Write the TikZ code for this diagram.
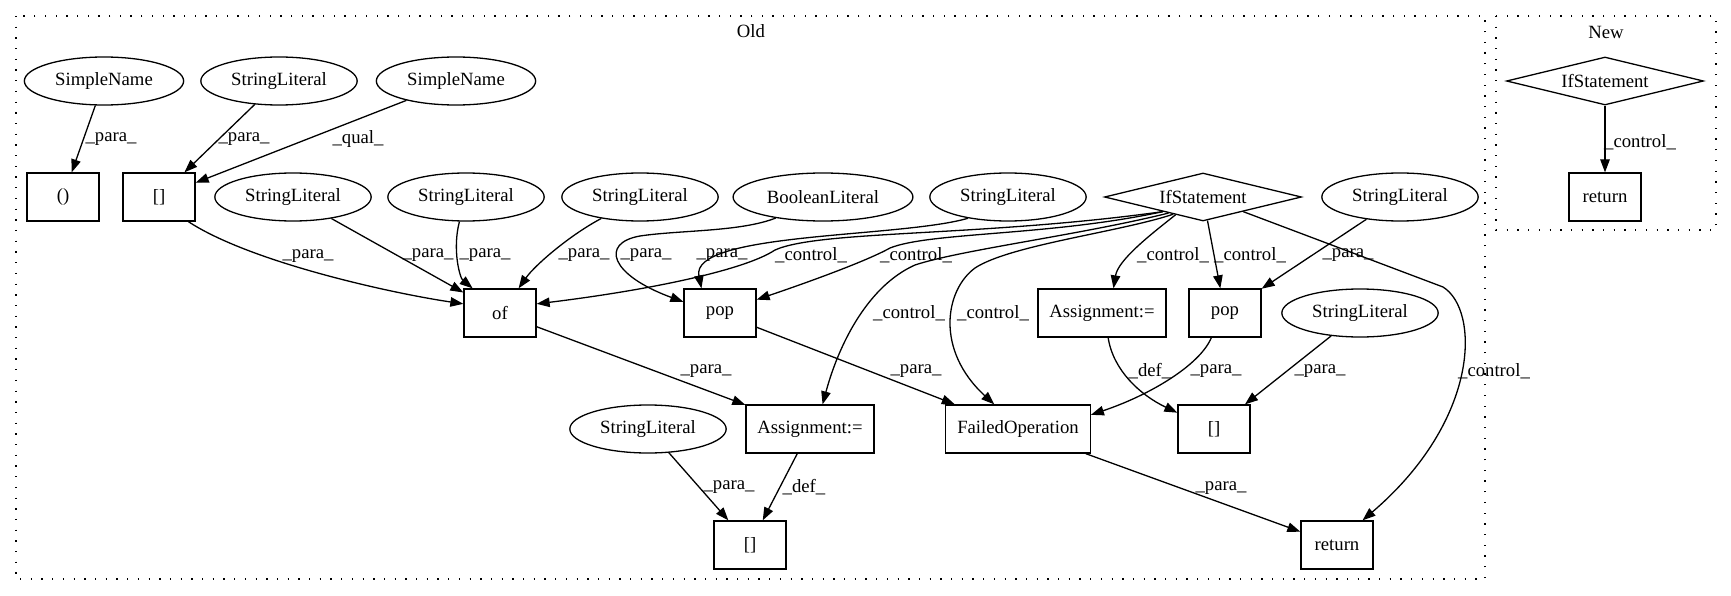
\documentclass[tikz,border=0pt]{standalone}
\usepackage{fontspec}
\setmainfont{Liberation Serif}
\usetikzlibrary{arrows.meta,shapes.geometric}
\newcommand{\gvfont}{\fontsize{18.7}{22}\selectfont}

\begin{document}
\begin{tikzpicture}[x=1pt,y=-1pt,line width=1.3pt,
    ell/.style={draw,ellipse,minimum height=48pt,inner xsep=7.5pt,inner ysep=0pt,font=\gvfont},
    box/.style={draw,rectangle,minimum width=72pt,minimum height=48pt,inner xsep=11.5pt,inner ysep=0pt,font=\gvfont},
    dia/.style={draw,diamond,aspect=4.1,minimum width=197pt,minimum height=48pt,inner sep=0pt,font=\gvfont},
    lbl/.style={font=\gvfont,inner sep=0pt},
    clus/.style={dash pattern=on 1.3pt off 9.4pt},
    arr/.style={-{Triangle[length=13pt,width=9.5pt]}}]
        \useasboundingbox (0,0) rectangle (1731,596);

        % Grupos
        \draw[clus] (16,16) rectangle (1485,579);
        \node[lbl] (old) at (751,31) {Old};
        \draw[clus] (1496,16) rectangle (1716,230);
        \node[lbl] (new) at (1606,32) {New};

        % Nodos de Old
        \node[ell] (sn1) at (104,81) {SimpleName};
        \node[ell] (sl1) at (279,81) {StringLiteral};
        \node[ell] (sn2) at (456,81) {SimpleName};
        \node[box] (paren) at (63,197) {()};
        \node[box] (brk1) at (159,197) {[]};
        \node[ell] (sl2) at (293,197) {StringLiteral};
        \node[ell] (sl3) at (466,197) {StringLiteral};
        \node[ell] (sl4) at (640,197) {StringLiteral};
        \node[ell] (bool) at (823,197) {BooleanLiteral};
        \node[ell] (sl5) at (1008,197) {StringLiteral};
        \node[dia] (ifs) at (1203,197) {IfStatement};
        \node[ell] (sl6) at (1400,197) {StringLiteral};
        \node[box] (of) at (500,313) {of};
        \node[box] (pop1) at (720,313) {pop};
        \node[box] (asg1) at (1102,313) {Assignment:=};
        \node[box] (pop2) at (1225,313) {pop};
        \node[ell] (sl7) at (1360,313) {StringLiteral};
        \node[ell] (sl8) at (648,429) {StringLiteral};
        \node[box] (asg2) at (810,429) {Assignment:=};
        \node[box] (fail) at (1018,429) {FailedOperation};
        \node[box] (brk2) at (1214,429) {[]};
        \node[box] (brk3) at (750,545) {[]};
        \node[box] (ret) at (1337,545) {return};

        % Nodos de New
        \node[dia] (ifsN) at (1605,81) {IfStatement};
        \node[box] (retN) at (1605,197) {return};

        % Aristas rectas
        \draw[arr] (sn1) -- (paren);
        \draw[arr] (sl1) -- (brk1);
        \draw[arr] (sn2) -- (brk1);
        \draw[arr] (sl2) -- (of);
        \draw[arr] (ifs) -- (pop2);
        \draw[arr] (sl6) -- (pop2);
        \draw[arr] (of) -- (asg2);
        \draw[arr] (pop1) -- (fail);
        \draw[arr] (sl7) -- (brk2);
        \draw[arr] (fail) -- (ret);
        \draw[arr] (sl8) -- (brk3);
        \draw[arr] (asg2) -- (brk3);
        \draw[arr] (ifsN) -- (retN);

        % Aristas curvas
        \draw[arr] (brk1.-40) .. controls (250,262) and (390,293) .. (of.166);
        \draw[arr] (sl3.255) .. controls (452,250) and (460,278) .. (of.138);
        \draw[arr] (sl4.209) .. controls (570,235) and (535,265) .. (of.53);
        \draw[arr] (bool.204) .. controls (740,232) and (680,230) .. (640,236) .. controls (600,243) and (610,275) .. (pop1.163);
        \draw[arr] (sl5.208) .. controls (900,238) and (690,232) .. (pop1.127);
        \draw[arr] (ifs.200) .. controls (980,237) and (820,230) .. (775,250) .. controls (745,270) and (650,290) .. (of.14);
        \draw[arr] (ifs.200) .. controls (1050,236) and (930,232) .. (890,248) .. controls (865,262) and (800,285) .. (pop1.20);
        \draw[arr] (ifs.213) .. controls (1150,235) and (1118,260) .. (asg1.65);
        \draw[arr] (ifs.340) -- (1443,287) .. controls (1480,310) and (1480,420) .. (ret.44);
        \draw[arr] (ifs.205) .. controls (1080,235) and (960,250) .. (915,265) .. controls (870,285) and (840,340) .. (asg2.63);
        \draw[arr] (ifs.210) .. controls (1120,232) and (1010,245) .. (975,268) .. controls (945,290) and (935,350) .. (fail.134);
        \draw[arr] (pop2.241) .. controls (1200,365) and (1150,395) .. (fail.11);
        \draw[arr] (asg1.284) .. controls (1113,370) and (1140,395) .. (brk2.156);

        % Etiquetas de las aristas
        \node[lbl] (l1) at (111,139) {\_para\_};
        \node[lbl] (l2) at (244,139) {\_para\_};
        \node[lbl] (l3) at (358,139) {\_qual\_};
        \node[lbl] (l4) at (308,256) {\_para\_};
        \node[lbl] (l5) at (428,255) {\_para\_};
        \node[lbl] (l6) at (485,255) {\_para\_};
        \node[lbl] (l7) at (584,255) {\_para\_};
        \node[lbl] (l8) at (646,255) {\_para\_};
        \node[lbl] (l9) at (722,255) {\_para\_};
        \node[lbl] (l10) at (811,255) {\_control\_};
        \node[lbl] (l11) at (916,255) {\_control\_};
        \node[lbl] (l12) at (1173,255) {\_control\_};
        \node[lbl] (l13) at (1250,255) {\_control\_};
        \node[lbl] (l14) at (1348,255) {\_para\_};
        \node[lbl] (l15) at (909,313) {\_control\_};
        \node[lbl] (l16) at (993,313) {\_control\_};
        \node[lbl] (l17) at (706,371) {\_para\_};
        \node[lbl] (l18) at (916,371) {\_para\_};
        \node[lbl] (l19) at (1150,371) {\_def\_};
        \node[lbl] (l20) at (1216,371) {\_para\_};
        \node[lbl] (l21) at (1320,371) {\_para\_};
        \node[lbl] (l22) at (1494,371) {\_control\_};
        \node[lbl] (l23) at (729,487) {\_para\_};
        \node[lbl] (l24) at (804,487) {\_def\_};
        \node[lbl] (l25) at (1221,488) {\_para\_};
        \node[lbl] (l26) at (1640,142) {\_control\_};
    \end{tikzpicture}
\end{document}
